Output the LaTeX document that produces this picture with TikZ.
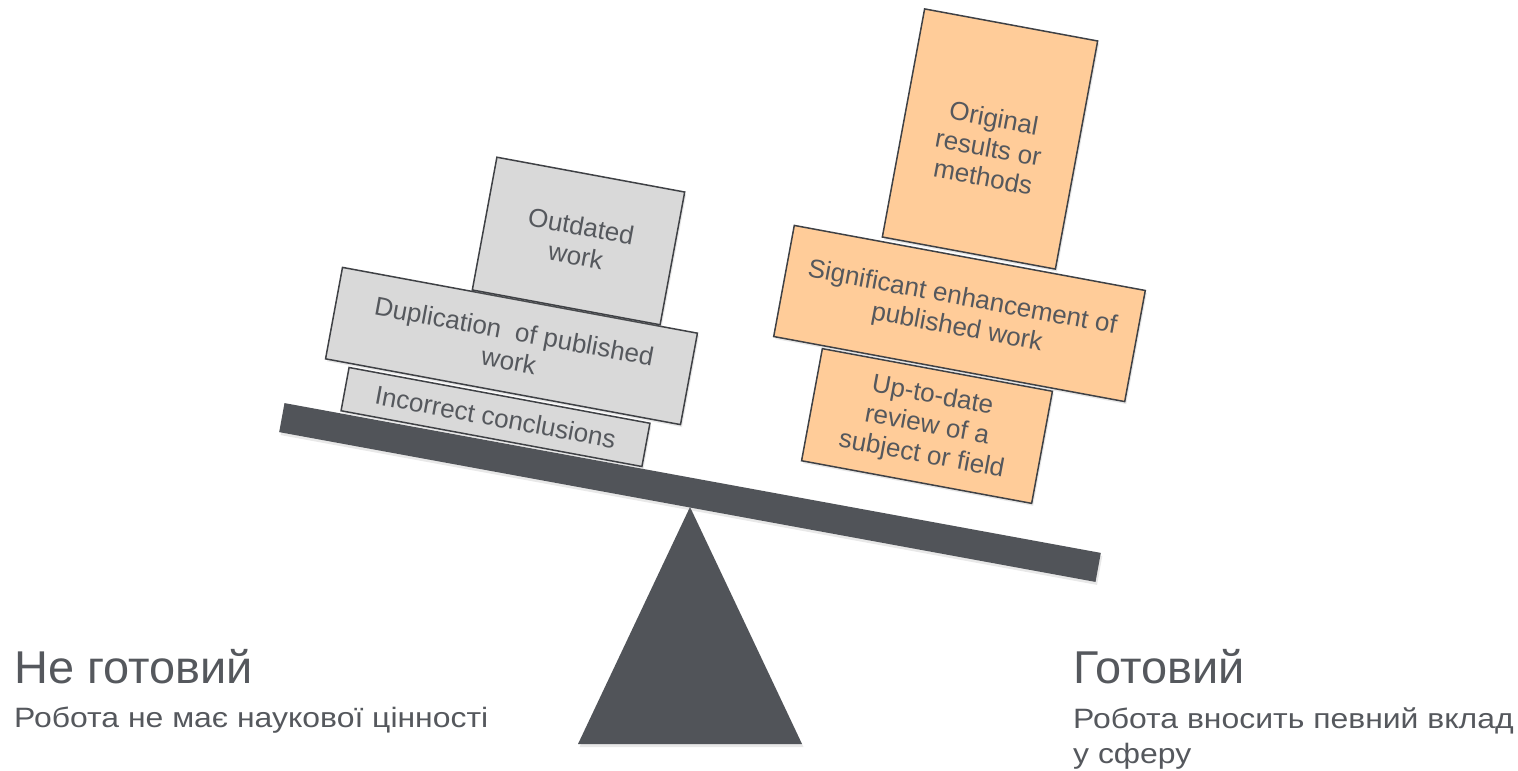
\documentclass[tikz,border=0pt]{standalone}
\usepackage{fontspec}
\setmainfont{Liberation Sans}
\newfontfamily\notefont[FakeStretch=1.14]{Liberation Sans}
\newfontfamily\headfont[FakeStretch=1.02]{Liberation Sans}
\usetikzlibrary{shadows}
\definecolor{slate}{HTML}{515459}
\definecolor{inktext}{HTML}{55585D}
\definecolor{blockgray}{HTML}{D9D9D9}
\definecolor{blockpeach}{HTML}{FFCC99}
\definecolor{edgeline}{HTML}{3F4145}

\begin{document}
\begin{tikzpicture}[x=1pt,y=-1pt,every node/.style={text=inktext}]
  \tikzstyle{block}=[rectangle,draw=edgeline,line width=1.5pt,align=center,inner sep=0pt,
                     rotate=-10.5,font=\fontsize{26}{30}\selectfont,
                     drop shadow={shadow xshift=1.5pt,shadow yshift=-2.5pt,opacity=0.18}]
  \tikzstyle{notready}=[block,fill=blockgray]
  \tikzstyle{ready}=[block,fill=blockpeach]
  \tikzstyle{heading}=[anchor=base west,inner sep=0pt,font=\headfont\fontsize{46}{52}\selectfont]
  \tikzstyle{remark}=[anchor=base west,inner sep=0pt,align=left,font=\notefont\fontsize{28}{35}\selectfont]

  \useasboundingbox (0,0) rectangle (1518,771);

  % fulcrum and beam
  \fill[slate,drop shadow={shadow xshift=1.5pt,shadow yshift=-3pt,opacity=0.18}]
       (690,507) -- (578,744) -- (802,744) -- cycle;
  \node[fill=slate,inner sep=0pt,minimum width=830pt,minimum height=29.5pt,rotate=-10.4,
        drop shadow={shadow xshift=1.5pt,shadow yshift=-3pt,opacity=0.18}] (beam) at (690,492.5) {};

  % left pile
  \node[notready,minimum width=306pt,minimum height=44pt]  (incorrect) at (495.5,417)  {Incorrect conclusions};
  \node[notready,minimum width=361pt,minimum height=93pt]  (duplicate) at (511.5,346)  {Duplication~ of published\\work};
  \node[notready,minimum width=191pt,minimum height=135pt] (outdated)  at (578.5,241)  {Outdated\\work};

  % right pile
  \node[ready,minimum width=234pt,minimum height=114pt] (review)   at (927,426)    {Up-to-date\\review of a\\subject or field};
  \node[ready,minimum width=357pt,minimum height=113pt] (enhance)  at (959.5,313.5) {Significant enhancement of\\published work};
  \node[ready,minimum width=176pt,minimum height=232pt,text height=96pt] (original) at (990,139) {Original\\results or\\methods};

  % captions
  \node[heading] (nr)     at (14,683)   {Не готовий};
  \node[remark]  (nrnote) at (14,727)   {Робота не має наукової цінності};
  \node[heading] (rd)     at (1073,683) {Готовий};
  \node[remark]  (rdnote) at (1073,763) {Робота вносить певний вклад\\у сферу};
\end{tikzpicture}
\end{document}
